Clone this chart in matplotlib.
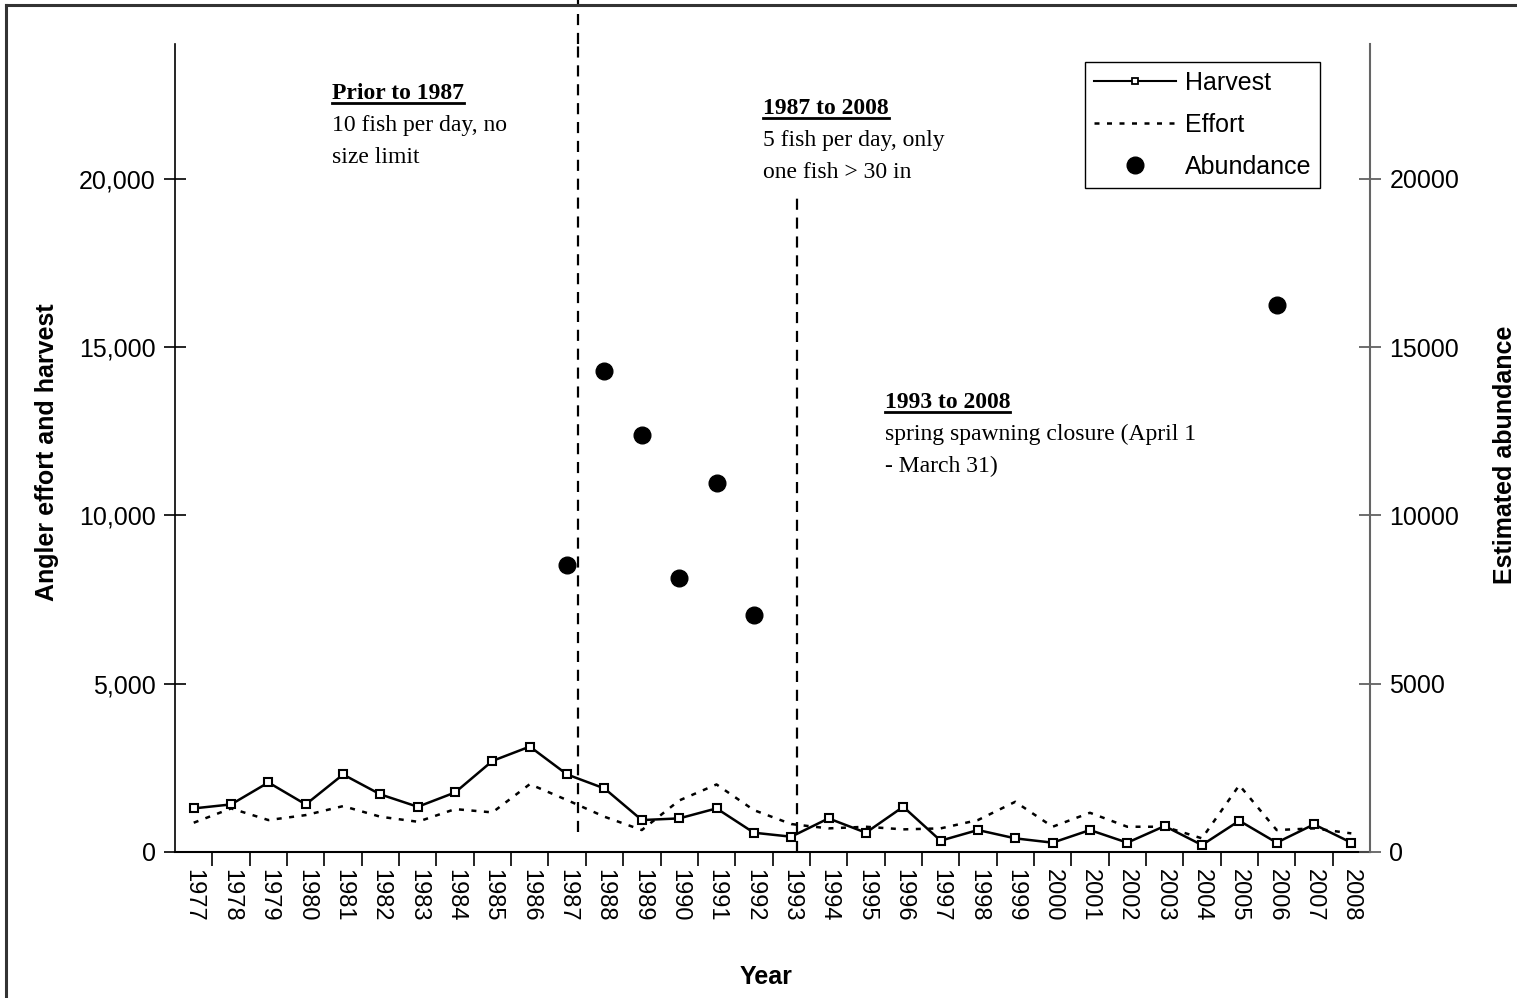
import numpy as np
import matplotlib.pyplot as plt
from matplotlib.lines import Line2D

plt.rcParams['font.family'] = ['Liberation Sans', 'DejaVu Sans']

years = np.arange(1977, 2009)
harvest = [1295, 1413, 2065, 1413, 2302, 1710, 1343, 1769, 2706, 3131, 2302,
           1887, 948, 998, 1295, 573, 454, 998, 573, 1343, 336, 652,
           405, 277, 652, 277, 770, 207, 928, 277, 820, 277]
effort = [869, 1295, 948, 1096, 1363, 1047, 898, 1274, 1176, 2015, 1541,
          1047, 652, 1530, 2006, 1244, 830, 701, 750, 672, 701, 948,
          1491, 750, 1165, 750, 750, 405, 1985, 652, 701, 553]
abund_years = [1987, 1988, 1989, 1990, 1991, 1992, 2006]
abundance = [8533, 14300, 12385, 8148, 10963, 7052, 16237]

# regulation periods: (x, baseline of heading, heading, body lines)
notes = [
    (1980.7, 22370, 'Prior to 1987', ['10 fish per day, no', 'size limit']),
    (1992.25, 21930, '1987 to 2008', ['5 fish per day, only', 'one fish > 30 in']),
    (1995.5, 13190, '1993 to 2008', ['spring spawning closure (April 1', '- March 31)']),
]

fig = plt.figure(figsize=(15.17, 9.98), dpi=100)
ax = fig.add_axes([0.1154, 0.1463, 0.7877, 0.8096])
ax2 = ax.twinx()

ax.plot(years, harvest, color='black', lw=1.8, marker='s', ms=6, mfc='white',
        mec='black', mew=1.5, label='Harvest', zorder=3)
ax.plot(years, effort, color='black', lw=1.8, linestyle=(0, (2, 3)), label='Effort', zorder=2)
ax2.plot(abund_years, abundance, 'o', color='black', ms=12, label='Abundance')

ax.set_xlim(1976.5, 2008.5)
ax.set_ylim(0, 24000)
ax2.set_ylim(0, 24000)

ax.set_xticks(years)
ax.set_xticklabels([str(y) for y in years], rotation=-90, fontsize=17)
ax.tick_params(axis='x', which='major', length=0, pad=12)
ax.set_xticks(years[:-1] + 0.5, minor=True)
ax.tick_params(axis='x', which='minor', length=10, width=1.2, direction='out')

ax.set_yticks([0, 5000, 10000, 15000, 20000])
ax.set_yticklabels(['0', '5,000', '10,000', '15,000', '20,000'], fontsize=18)
ax.tick_params(axis='y', length=16, width=1.2, direction='inout', pad=6)
ax2.set_yticks([0, 5000, 10000, 15000, 20000])
ax2.set_yticklabels(['0', '5000', '10000', '15000', '20000'], fontsize=18)
ax2.tick_params(axis='y', length=16, width=1.2, direction='inout', pad=6, color='#555555')

for a in (ax, ax2):
    a.spines['top'].set_visible(False)
ax.spines['right'].set_visible(False)
ax2.spines['left'].set_visible(False)
ax2.spines['bottom'].set_visible(False)
ax.spines['left'].set_linewidth(1.2)
ax.spines['bottom'].set_linewidth(1.5)
ax2.spines['right'].set_color('#666666')
ax2.spines['right'].set_linewidth(1.5)

ax.set_xlabel('Year', fontsize=18, fontweight='bold', va='center', ha='center')
ax.set_ylabel('Angler effort and harvest', fontsize=18, fontweight='bold',
              va='center', ha='center')
ax2.set_ylabel('Estimated abundance', fontsize=18, fontweight='bold', rotation=90,
               va='center', ha='center')
ax.xaxis.set_label_coords((766 - 175) / 1195, -(977 - 852) / 808)
ax.yaxis.set_label_coords(-(175 - 47) / 1195, (852 - 452) / 808)
ax2.yaxis.set_label_coords((1505 - 175) / 1195, (852 - 455) / 808)

# period boundaries
ax.plot([1987.29, 1987.29], [600, 24000], color='black', lw=1.6, ls=(0, (5, 3.5)), zorder=1)
ax.plot([1987.29, 1987.29], [24000, 25300], color='black', lw=1.6, ls=(0, (5, 3.5)),
        clip_on=False, zorder=1)
ax.plot([1993.16, 1993.16], [0, 19500], color='black', lw=1.6, ls=(0, (5, 3.5)), zorder=1)

heads = []
for x, y, head, body in notes:
    t = ax.text(x, y, head, fontsize=17, fontweight='bold', family='Liberation Serif',
                va='baseline')
    heads.append(t)
    for i, line in enumerate(body):
        ax.text(x, y - 950 * (i + 1), line, fontsize=17, family='Liberation Serif',
                va='baseline')

handles = [
    Line2D([], [], color='black', lw=1.5, marker='s', ms=5, mfc='white', mec='black', mew=1.3),
    Line2D([], [], color='black', lw=1.8, linestyle=(0, (2, 3))),
    Line2D([], [], color='black', marker='o', ms=12, lw=0),
]
leg = ax.legend(handles, ['Harvest', 'Effort', 'Abundance'], loc='upper right',
                bbox_to_anchor=((1320 - 175) / 1195, (852 - 62) / 808), fontsize=18,
                frameon=True, fancybox=False, edgecolor='black', framealpha=1,
                handlelength=3.3, handletextpad=0.35, borderpad=0.35, labelspacing=0.72,
                borderaxespad=0)
leg.get_frame().set_linewidth(1.0)
leg.set_zorder(5)

# underline the period headings
fig.canvas.draw()
renderer = fig.canvas.get_renderer()
inv = fig.transFigure.inverted()
for t in heads:
    bb = t.get_window_extent(renderer)
    (x0, y0), (x1, _) = inv.transform([[bb.x0, bb.y0 + 1], [bb.x1, bb.y0]])
    fig.add_artist(Line2D([x0, x1], [y0, y0], color='black', lw=2, transform=fig.transFigure))

# outer frame
fig.add_artist(Line2D([0.004, 1.0], [0.995, 0.995], color='#333333', lw=2.2, transform=fig.transFigure))
fig.add_artist(Line2D([0.004, 0.004], [0.0, 0.995], color='#333333', lw=2.2, transform=fig.transFigure))

fig.savefig('out.png', dpi=100)
